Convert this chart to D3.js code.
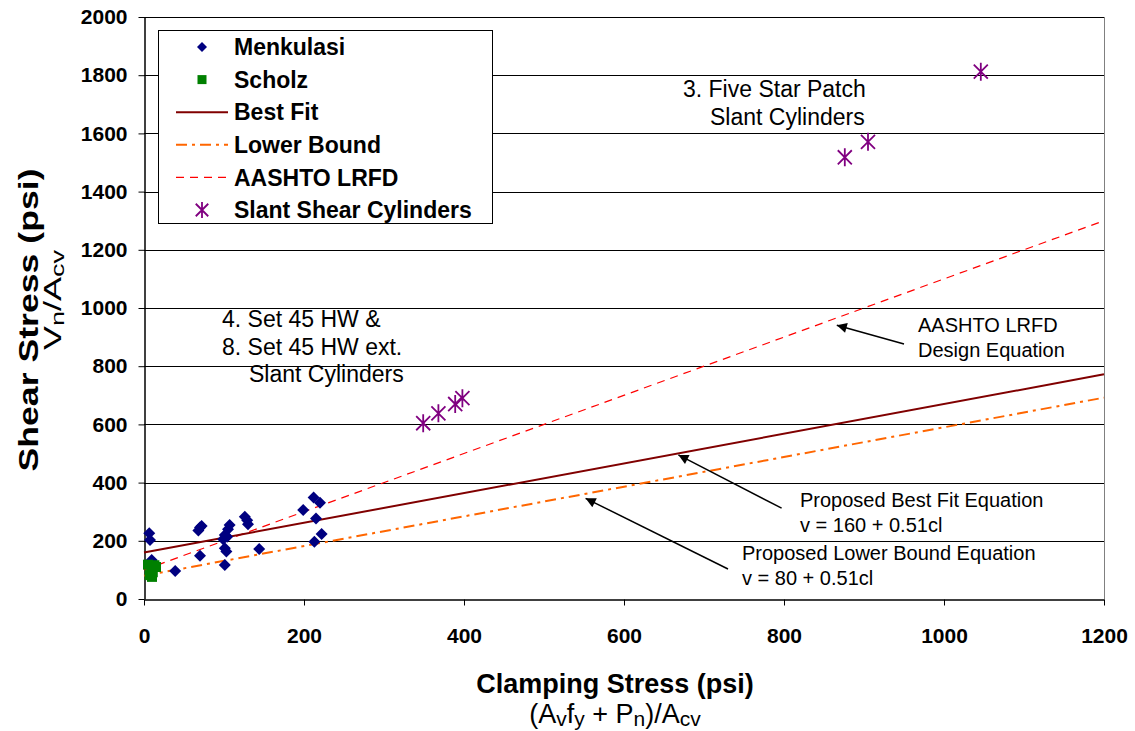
<!DOCTYPE html>
<html>
<head>
<meta charset="utf-8">
<script src="https://cdn.jsdelivr.net/npm/d3@7/dist/d3.min.js"></script>
<style>
  html, body { margin: 0; padding: 0; background: #fff; }
  svg { display: block; font-family: Arial, "Liberation Sans", sans-serif; }
</style>
</head>
<body>
<svg id="chart" width="1135" height="731"></svg>
<script>
// Shear friction test data: clamping stress (psi) vs. shear stress (psi)
const menkulasiX = [6.6, 7.5, 9.6, 68, 70, 72, 70, 39, 99, 101, 104, 105, 107, 101, 103, 101, 126, 130, 129, 144, 199, 212, 220, 215, 213, 222];
const menkulasiY = [226, 203, 134, 235, 246, 251, 149, 96, 205, 220, 214, 240, 254, 174, 163, 117, 283, 257, 271, 172, 306, 349, 331, 277, 197, 223];

const scholzX = [5, 9, 13, 7, 11, 15, 10];
const scholzY = [118, 106, 116, 82, 92, 110, 76];

const slantX = [349, 368, 389, 398, 876, 905, 1046];
const slantY = [604, 638, 670, 690, 1518, 1571, 1812];

// Design equations: v = intercept + slope * clamping stress
const bestFitLine = { intercept: 160, slope: 0.51 };
const lowerBoundLine = { intercept: 80, slope: 0.51 };
const aashtoLine = { intercept: 100, slope: 1.0 };

const xTicks = [0, 200, 400, 600, 800, 1000, 1200];
const yTicks = [0, 200, 400, 600, 800, 1000, 1200, 1400, 1600, 1800, 2000];

const legendLabels = ["Menkulasi", "Scholz", "Best Fit", "Lower Bound", "AASHTO LRFD", "Slant Shear Cylinders"];

const svg = d3.select("#chart");

const x = d3.scaleLinear().domain([0, 1200]).range([144, 1104]);
const y = d3.scaleLinear().domain([0, 2000]).range([599, 17]);

const COLORS = {
  menkulasi: "#000080",
  scholz: "#008000",
  best: "#800000",
  lower: "#FF6600",
  aashto: "#FF0000",
  slant: "#800080"
};

// Horizontal gridlines
svg.append("g")
  .selectAll("line")
  .data(yTicks.filter(d => d > 0))
  .join("line")
  .attr("x1", x(0)).attr("x2", x(1200))
  .attr("y1", d => Math.round(y(d)) + 0.5)
  .attr("y2", d => Math.round(y(d)) + 0.5)
  .attr("stroke", "#000")
  .attr("stroke-width", 1);

// Right plot edge
svg.append("line")
  .attr("x1", Math.round(x(1200)) + 0.5).attr("x2", Math.round(x(1200)) + 0.5)
  .attr("y1", y(2000)).attr("y2", y(0))
  .attr("stroke", "#808080").attr("stroke-width", 1);

// Axes
const fmt = d3.format("d");
const xAxis = d3.axisBottom(x).tickValues(xTicks).tickFormat(fmt).tickSize(6).tickPadding(23).tickSizeOuter(0);
const yAxis = d3.axisLeft(y).tickValues(yTicks).tickFormat(fmt).tickSize(6).tickPadding(11).tickSizeOuter(0);

const gx = svg.append("g").attr("transform", `translate(0,${Math.round(y(0)) + 0.5})`).call(xAxis);
const gy = svg.append("g").attr("transform", `translate(${Math.round(x(0)) + 0.5},0)`).call(yAxis);

[gx, gy].forEach(g => {
  g.selectAll(".domain").attr("stroke", "#000").attr("stroke-width", 1.5);
  g.selectAll(".tick line").attr("stroke", "#000");
  g.selectAll(".tick text")
    .attr("fill", "#000")
    .attr("font-family", "Arial, 'Liberation Sans', sans-serif")
    .attr("font-weight", "bold")
    .attr("font-size", 21);
});

// Equation lines
function drawEq(eq, color, width, dash) {
  const pts = [0, 1200].map(c => [x(c), y(eq.intercept + eq.slope * c)]);
  svg.append("path")
    .attr("d", d3.line()(pts))
    .attr("fill", "none")
    .attr("stroke", color)
    .attr("stroke-width", width)
    .attr("stroke-dasharray", dash);
}
drawEq(aashtoLine, COLORS.aashto, 1.2, "8,6");
drawEq(lowerBoundLine, COLORS.lower, 2, "11,5,3,5");
drawEq(bestFitLine, COLORS.best, 2, null);

// Marker shapes
function diamondPath(r) {
  return `M0,${-r}L${r},0L0,${r}L${-r},0Z`;
}
function asteriskPath(r) {
  const d = r * 0.78;
  return `M0,${-r}V${r}M${-d},${-d}L${d},${d}M${d},${-d}L${-d},${d}`;
}

// Menkulasi points
svg.append("g")
  .selectAll("path")
  .data(menkulasiX.map((v, i) => [v, menkulasiY[i]]))
  .join("path")
  .attr("transform", d => `translate(${x(d[0])},${y(d[1])})`)
  .attr("d", diamondPath(6))
  .attr("fill", COLORS.menkulasi);

// Scholz points
svg.append("g")
  .selectAll("rect")
  .data(scholzX.map((v, i) => [v, scholzY[i]]))
  .join("rect")
  .attr("x", d => x(d[0]) - 5)
  .attr("y", d => y(d[1]) - 5)
  .attr("width", 10).attr("height", 10)
  .attr("fill", COLORS.scholz);

// Slant shear cylinder points
svg.append("g")
  .selectAll("path")
  .data(slantX.map((v, i) => [v, slantY[i]]))
  .join("path")
  .attr("transform", d => `translate(${x(d[0])},${y(d[1])})`)
  .attr("d", asteriskPath(9))
  .attr("fill", "none")
  .attr("stroke", COLORS.slant)
  .attr("stroke-width", 1.8);

// Text annotations
function textBlock(lines, x0, y0, lh, size) {
  const t = svg.append("text")
    .attr("font-size", size)
    .attr("fill", "#000");
  lines.forEach((ln, i) => {
    t.append("tspan").attr("x", x0 + (ln.indent || 0)).attr("y", y0 + i * lh).text(ln.text);
  });
}
textBlock([{ text: "3. Five Star Patch" }, { text: "Slant Cylinders", indent: 27 }], 683, 97, 28, 23);
textBlock([{ text: "4. Set 45 HW &" }, { text: "8. Set 45 HW ext." }, { text: "Slant Cylinders", indent: 27 }], 222, 327, 27.5, 23);
textBlock([{ text: "AASHTO LRFD" }, { text: "Design Equation" }], 918, 332, 25, 20);
textBlock([{ text: "Proposed Best Fit Equation" }, { text: "v = 160 + 0.51cl" }], 800, 507, 25, 20);
textBlock([{ text: "Proposed Lower Bound Equation" }, { text: "v = 80 + 0.51cl" }], 742, 560, 25, 20);

// Arrows pointing to the equation lines (data coordinates: [tail, tip])
const arrows = [
  [[950, 876], [866, 941]],
  [[797, 312], [668, 495]],
  [[730, 103], [552, 346]]
];
svg.append("defs").append("marker")
  .attr("id", "head")
  .attr("viewBox", "0 0 10 10")
  .attr("refX", 10).attr("refY", 5)
  .attr("markerWidth", 12).attr("markerHeight", 10)
  .attr("markerUnits", "userSpaceOnUse")
  .attr("orient", "auto")
  .append("path").attr("d", "M0,0L10,5L0,10Z").attr("fill", "#000");
svg.append("g")
  .selectAll("line")
  .data(arrows)
  .join("line")
  .attr("x1", d => x(d[0][0])).attr("y1", d => y(d[0][1]))
  .attr("x2", d => x(d[1][0])).attr("y2", d => y(d[1][1]))
  .attr("stroke", "#000").attr("stroke-width", 1.5)
  .attr("marker-end", "url(#head)");

// Legend
const lg = svg.append("g");
lg.append("rect")
  .attr("x", 158.5).attr("y", 30.5).attr("width", 334).attr("height", 193)
  .attr("fill", "#fff").attr("stroke", "#000").attr("stroke-width", 1);
const rowY = i => 47 + i * 32.6;
const sx = 202;
lg.append("path").attr("transform", `translate(${sx},${rowY(0)})`).attr("d", diamondPath(5)).attr("fill", COLORS.menkulasi);
lg.append("rect").attr("x", sx - 4.5).attr("y", rowY(1) - 4.5).attr("width", 9).attr("height", 9).attr("fill", COLORS.scholz);
[[COLORS.best, 2, null], [COLORS.lower, 2, "11,5,3,5"], [COLORS.aashto, 1.2, "8,6"]].forEach((s, k) => {
  lg.append("line")
    .attr("x1", 176).attr("x2", 228)
    .attr("y1", rowY(2 + k)).attr("y2", rowY(2 + k))
    .attr("stroke", s[0]).attr("stroke-width", s[1]).attr("stroke-dasharray", s[2]);
});
lg.append("path").attr("transform", `translate(${sx},${rowY(5)})`).attr("d", asteriskPath(8))
  .attr("fill", "none").attr("stroke", COLORS.slant).attr("stroke-width", 1.8);
lg.selectAll("text.lab")
  .data(legendLabels)
  .join("text")
  .attr("class", "lab")
  .attr("x", 234)
  .attr("y", (d, i) => rowY(i))
  .attr("dy", "0.36em")
  .attr("font-size", 23)
  .attr("font-weight", "bold")
  .text(d => d);

// Axis titles
svg.append("text")
  .attr("x", 615).attr("y", 693)
  .attr("text-anchor", "middle")
  .attr("font-size", 27).attr("font-weight", "bold")
  .text("Clamping Stress (psi)");

// Writes a run of text parts; subscript parts are smaller and dropped below the baseline
function subParts(el, parts, subSize, drop) {
  let shifted = false;
  parts.forEach(p => {
    const ts = el.append("tspan").text(p.t);
    if (p.sub) {
      ts.attr("font-size", subSize);
      if (!shifted) { ts.attr("dy", drop); shifted = true; }
    } else if (shifted) {
      ts.attr("dy", -drop);
      shifted = false;
    }
  });
}

const xSub = svg.append("text")
  .attr("x", 615).attr("y", 723)
  .attr("text-anchor", "middle")
  .attr("font-size", 27);
subParts(xSub, [{ t: "(A" }, { t: "v", sub: true }, { t: "f" }, { t: "y", sub: true }, { t: " + P" }, { t: "n", sub: true }, { t: ")/A" }, { t: "cv", sub: true }], 21, 3);

svg.append("text")
  .attr("transform", "translate(38,320) rotate(-90) scale(1.32,1)")
  .attr("text-anchor", "middle")
  .attr("font-size", 27).attr("font-weight", "bold")
  .text("Shear Stress (psi)");

const ySub = svg.append("text")
  .attr("transform", "translate(61,300) rotate(-90) scale(1.5,1)")
  .attr("text-anchor", "middle")
  .attr("font-size", 24);
subParts(ySub, [{ t: "V" }, { t: "n", sub: true }, { t: "/A" }, { t: "cv", sub: true }], 18, 3);
</script>
</body>
</html>
